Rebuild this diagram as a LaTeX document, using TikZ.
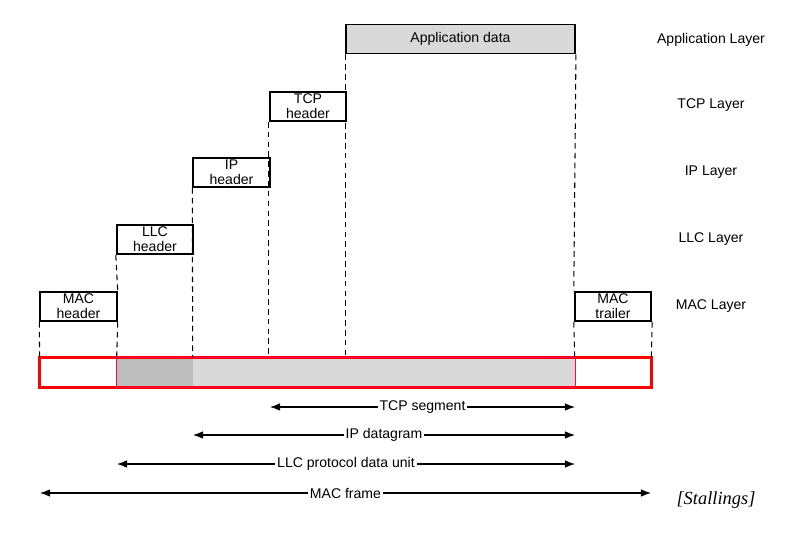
\documentclass[tikz,border=0pt]{standalone}
\usepackage{fontspec}
\setmainfont{Liberation Sans}
\newfontfamily\stallfont{Liberation Serif}
\usetikzlibrary{arrows.meta}

\begin{document}
\begin{tikzpicture}[x=0.02cm,y=-0.02cm]
\tikzstyle{hdr} = [draw, line width=1.1pt, fill=white, minimum width=1.53cm, minimum height=0.58cm, inner sep=0pt, align=center, font=\fontsize{8}{8.6}\selectfont]
\tikzstyle{cell} = [minimum height=0.58cm, inner sep=0pt]
\tikzstyle{mydash} = [line width=0.6pt, dash pattern=on 3.2pt off 2.4pt]
\tikzstyle{myarrow} = [line width=0.6pt, Latex-Latex, >={Latex[length=6pt,width=3.6pt]}]
\tikzstyle{lbl} = [fill=white, inner sep=1pt, font=\fontsize{8}{9}\selectfont]
\tikzstyle{layer} = [font=\fontsize{8}{9}\selectfont]
\useasboundingbox (0,0) rectangle (796,556);
% header boxes
\node[hdr, fill=gray!30, minimum width=4.58cm] (app) at (460.5,39) {Application data};
\node[hdr] (tcp) at (308,106.5) {TCP\\header};
\node[hdr] (ip) at (231.5,172.5) {IP\\header};
\node[hdr] (llc) at (155,239.5) {LLC\\header};
\node[hdr] (mach) at (78.5,306.5) {MAC\\header};
\node[hdr] (mact) at (613,306.5) {MAC\\trailer};
% frame
\node[cell, fill=white, minimum width=1.54cm] (b1) at (78.5,372.5) {};
\node[cell, fill=gray!52, minimum width=1.52cm] (b2) at (155,372.5) {};
\node[cell, fill=gray!30, minimum width=7.64cm] (b3) at (384,372.5) {};
\node[cell, fill=white, minimum width=1.52cm] (b4) at (613,372.5) {};
\draw[red, line width=1.5pt] (b1.north west) rectangle (b4.south east);
\draw[red!70!magenta, line width=0.8pt] (b2.north west) rectangle (b3.south east);
% dashed guides
\draw[mydash] (app.south west) -- (app.south west |- b3.north);
\draw[mydash] (app.south east) -- (mact.north west);
\draw[mydash] (mact.south west) -- (b4.north west);
\draw[mydash] (tcp.south west) -- (tcp.south west |- b3.north);
\draw[mydash] (ip.south west) -- (b3.north west);
\draw[mydash] (llc.south west) -- (mach.north east);
\draw[mydash] (mach.south east) -- (b2.north west);
\draw[mydash] (mach.south west) -- (b1.north west);
\draw[mydash] (mact.south east) -- (b4.north east);
% spans
\coordinate (segL) at (270,407);
\coordinate (segR) at (575,407);
\coordinate (dgL) at (193,435);
\coordinate (dgR) at (575,435);
\coordinate (pduL) at (117,464);
\coordinate (pduR) at (575,464);
\coordinate (frL) at (40,493);
\coordinate (frR) at (651,493);
\draw[myarrow] (segL) -- node[lbl] {TCP segment} (segR);
\draw[myarrow] (dgL) -- node[lbl] {IP datagram} (dgR);
\draw[myarrow] (pduL) -- node[lbl] {LLC protocol data unit} (pduR);
\draw[myarrow] (frL) -- node[lbl] {MAC frame} (frR);
% layer names
\node[layer] (lapp) at (711,40) {Application Layer};
\node[layer] (ltcp) at (711,105) {TCP Layer};
\node[layer] (lip) at (711,172) {IP Layer};
\node[layer] (lllc) at (711,239) {LLC Layer};
\node[layer] (lmac) at (711,306) {MAC Layer};
\node[font=\stallfont\itshape\fontsize{10.5}{12}\selectfont] (src) at (716,500) {[Stallings]};
\end{tikzpicture}
\end{document}
